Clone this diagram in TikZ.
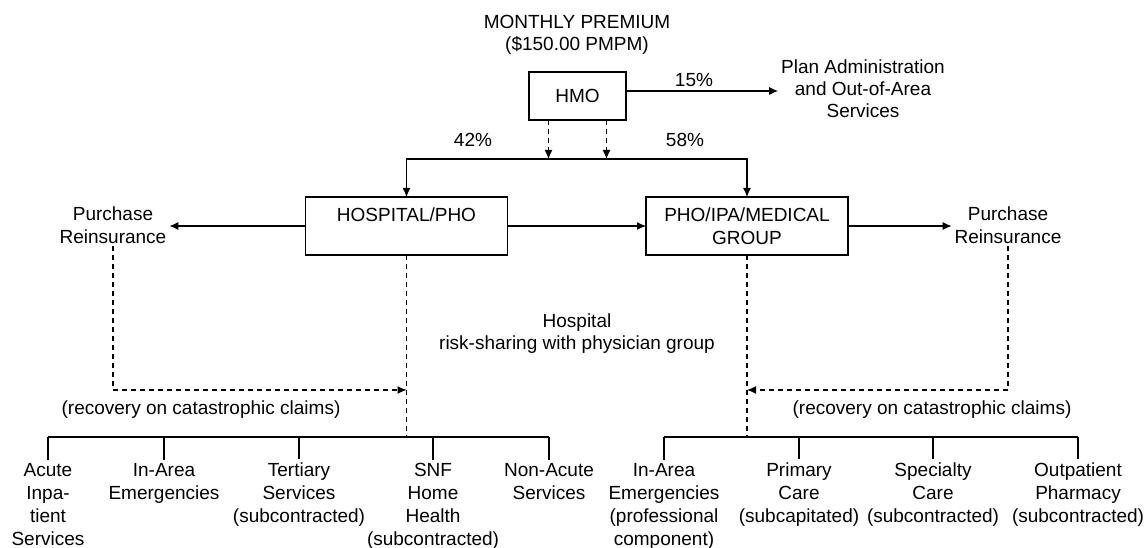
\documentclass[tikz,border=0pt]{standalone}
\usepackage{fontspec}
\setmainfont{Liberation Sans}
\usetikzlibrary{arrows.meta}

\begin{document}
\begin{tikzpicture}[x=1pt,y=-1pt,line width=1.1pt,>={Latex[length=9pt,width=8pt]},
  every node/.style={align=center,inner sep=0pt,outer sep=3pt,font=\fontsize{19}{23}\selectfont},
  lbl/.style={anchor=base},
  box/.style={draw,rectangle,minimum height=58pt,minimum width=202pt,outer sep=0pt},
  dashline/.style={dash pattern=on 5pt off 4pt}]
  \useasboundingbox (0,0) rectangle (1148,548);
  % top (base = last line)
  \node[lbl,font=\fontsize{19}{22}\selectfont] (premium) at (577,51) {MONTHLY PREMIUM\\(\$150.00 PMPM)};
  \node[box,minimum width=97pt,minimum height=48pt] (hmo) at (577.5,96) {HMO};
  \node[lbl,font=\fontsize{19}{22}\selectfont] (plan) at (863,118) {Plan Administration\\and Out-of-Area\\Services};
  \node[lbl] (p15) at (694,87) {15\%};
  \node[lbl] (p42) at (473,147) {42\%};
  \node[lbl] (p58) at (685,147) {58\%};
  % middle
  \node[box] (hosp) at (406.5,226) {HOSPITAL/PHO\\~};
  \node[box] (pho) at (747,226) {PHO/IPA/MEDICAL\\GROUP};
  \node[lbl] (reinL) at (113,243) {Purchase\\Reinsurance};
  \node[lbl] (reinR) at (1008,243) {Purchase\\Reinsurance};
  \node[lbl,font=\fontsize{19}{22}\selectfont] (risk) at (577,349) {Hospital\\risk-sharing with physician group};
  \node[lbl] (recL) at (201,414) {(recovery on catastrophic claims)};
  \node[lbl] (recR) at (932,414) {(recovery on catastrophic claims)};
  % bottom
  \node[lbl] (acute) at (48,545) {Acute\\Inpa-\\tient\\Services};
  \node[lbl] (inarea) at (164,499) {In-Area\\Emergencies};
  \node[lbl] (tertiary) at (299,522) {Tertiary\\Services\\(subcontracted)};
  \node[lbl] (snf) at (433,545) {SNF\\Home\\Health\\(subcontracted)};
  \node[lbl] (nonacute) at (549,499) {Non-Acute\\Services};
  \node[lbl] (emerg) at (664,545) {In-Area\\Emergencies\\(professional\\component)};
  \node[lbl] (primary) at (799,522) {Primary\\Care\\(subcapitated)};
  \node[lbl] (specialty) at (933,522) {Specialty\\Care\\(subcontracted)};
  \node[lbl] (pharmacy) at (1078,522) {Outpatient\\Pharmacy\\(subcontracted)};

  \coordinate (bus) at (577,159);
  \coordinate (lbus) at (hosp.south |- 0,437);
  \coordinate (rbus) at (pho.south |- 0,437);
  \coordinate (lrec) at (hosp.south |- 0,390);
  \coordinate (rrec) at (pho.south |- 0,390);

  \draw[->] ([yshift=5pt]hmo.east) -- ([yshift=5pt]hmo.east -| plan.west);
  \draw[->,dashline] ([xshift=-29pt]hmo.south) -- ([xshift=-29pt]hmo.south |- bus);
  \draw[->,dashline] ([xshift=29pt]hmo.south) -- ([xshift=29pt]hmo.south |- bus);
  \draw[->] (bus) -| (hosp.north);
  \draw[->] (bus) -| (pho.north);
  \draw[->] (hosp.west) -- (reinL.east |- hosp.west);
  \draw[->] (hosp.east) -- (pho.west);
  \draw[->] (pho.east) -- (reinR.west |- pho.east);
  \draw[->,dashline] (reinL.south) |- (lrec);
  \draw[->,dashline] (reinR.south) |- (rrec);
  \draw[dashline] (hosp.south) -- (lbus);
  \draw[dashline] (pho.south) -- (rbus);
  \draw (acute.north |- lbus) -- (nonacute.north |- lbus);
  \draw (emerg.north |- rbus) -- (pharmacy.north |- rbus);
  \foreach \n in {acute,inarea,tertiary,snf,nonacute}
    \draw (\n.north |- lbus) -- (\n.north);
  \foreach \n in {emerg,primary,specialty,pharmacy}
    \draw (\n.north |- rbus) -- (\n.north);
\end{tikzpicture}
\end{document}
